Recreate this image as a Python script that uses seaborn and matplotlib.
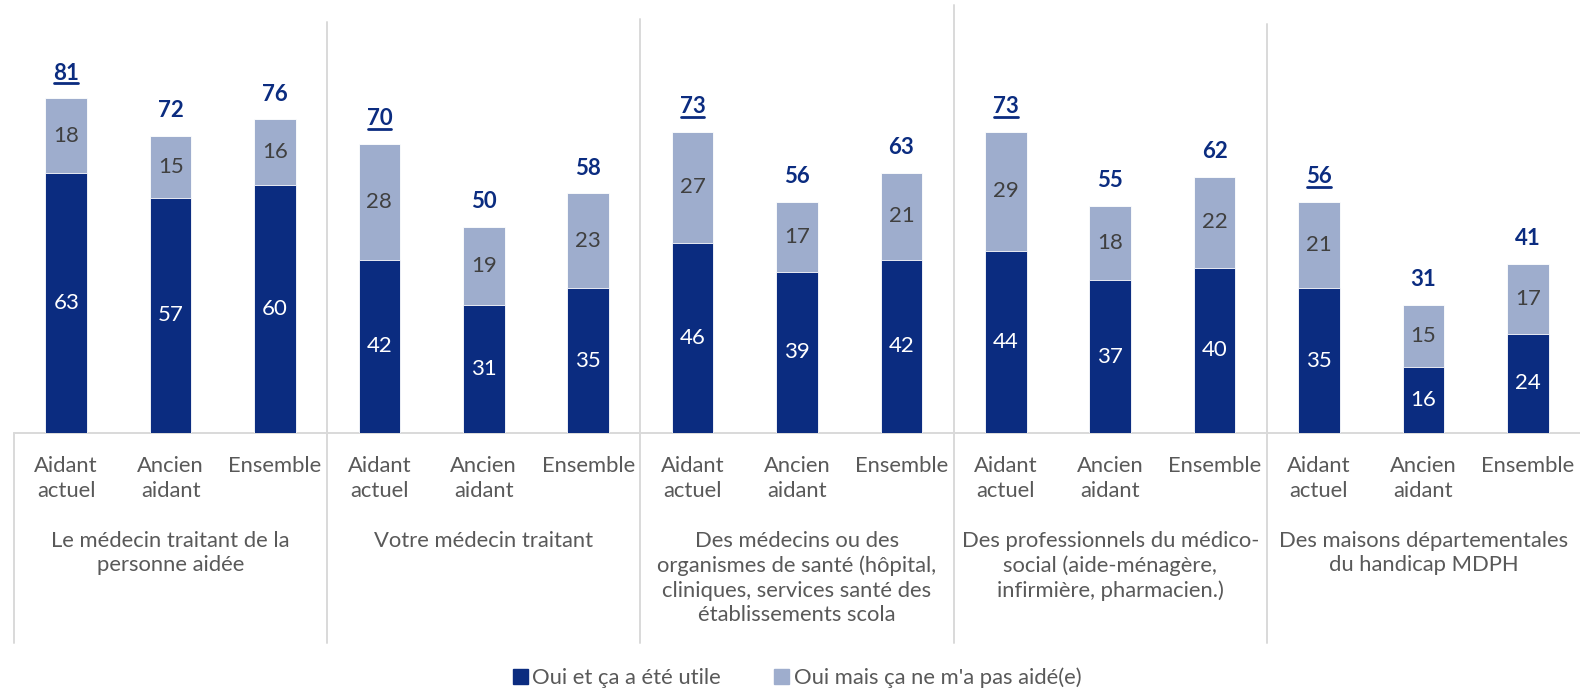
import matplotlib

matplotlib.use("Agg")
import matplotlib.pyplot as plt
import seaborn as sns
from matplotlib.lines import Line2D

# --- data -------------------------------------------------------------
groups = [
    "Le médecin traitant de la\npersonne aidée",
    "Votre médecin traitant",
    "Des médecins ou des\norganismes de santé (hôpital,\ncliniques, services santé des\nétablissements scola",
    "Des professionnels du médico-\nsocial (aide-ménagère,\ninfirmière, pharmacien.)",
    "Des maisons départementales\ndu handicap MDPH",
]
subgroups = ["Aidant\nactuel", "Ancien\naidant", "Ensemble"]
utile = [63, 57, 60, 42, 31, 35, 46, 39, 42, 44, 37, 40, 35, 16, 24]
pas_aide = [18, 15, 16, 28, 19, 23, 27, 17, 21, 29, 18, 22, 21, 15, 17]
totals = [81, 72, 76, 70, 50, 58, 73, 56, 63, 73, 55, 62, 56, 31, 41]
legend_labels = ["Oui et ça a été utile", "Oui mais ça ne m'a pas aidé(e)"]

DARK = "#0b2c80"
LIGHT = "#9eadcd"
GRID = "#d9d9d9"
TXT = "#595959"

sns.set_theme(style="white")
plt.rcParams["font.family"] = ["Lato", "DejaVu Sans"]

W, H = 1580, 691
fig = plt.figure(figsize=(W / 100, H / 100), dpi=100)
base_px = 433
px_per_unit = 4.13
ax = fig.add_axes([14 / W, 1 - base_px / H, 1 - 14 / W, base_px / H])

keys = [f"{g}|{s}" for g in range(len(groups)) for s in range(len(subgroups))]
sns.barplot(x=keys, y=totals, order=keys, color=LIGHT, saturation=1,
            width=0.4, ax=ax, edgecolor="white", linewidth=0.6)
sns.barplot(x=keys, y=utile, order=keys, color=DARK, saturation=1,
            width=0.4, ax=ax, edgecolor="white", linewidth=0.6)

ax.set_xlim(-0.5, len(keys) - 0.5)
ax.set_ylim(0, base_px / px_per_unit)
ax.set_xticks([])
ax.set_yticks([])
ax.set_xlabel("")
ax.set_ylabel("")
for sp in ax.spines.values():
    sp.set_visible(False)


def py(px):
    """pixel row -> data y"""
    return (base_px - px) / px_per_unit


# segment labels
for i, (u, p) in enumerate(zip(utile, pas_aide)):
    ax.text(i, u / 2, str(u), ha="center", va="center", color="white", fontsize=16)
    ax.text(i, u + p / 2, str(p), ha="center", va="center", color="#404040", fontsize=16)

# totals, underlined for "Aidant actuel"
tot_texts = []
for i, t in enumerate(totals):
    txt = ax.annotate(str(t), (i, t), xytext=(0, 25), textcoords="offset pixels",
                      ha="center", va="center", color=DARK, fontsize=16,
                      fontweight="bold")
    tot_texts.append((i, txt))

# category box and separators
sep_tops = [22, 19, 5, 24]
box_bottom = py(643)
line_kw = dict(color=GRID, lw=1.4, clip_on=False, zorder=0)
ax.plot([-0.5, len(keys) - 0.5], [0, 0], **line_kw)
ax.plot([-0.5, -0.5], [0, box_bottom], **line_kw)
for k, top in enumerate(sep_tops):
    xs = 3 * (k + 1) - 0.5
    ax.plot([xs, xs], [py(top), box_bottom], **line_kw)

# sub labels and group labels
for i, key in enumerate(keys):
    s = i % 3
    ax.text(i, py(456), subgroups[s], ha="center", va="top", color=TXT,
            fontsize=15.8, linespacing=1.3, clip_on=False)
for g, name in enumerate(groups):
    ax.text(3 * g + 1, py(531), name, ha="center", va="top", color=TXT,
            fontsize=15.8, linespacing=1.28, clip_on=False)

# legend
handles = [plt.Rectangle((0, 0), 1, 1, color=DARK), plt.Rectangle((0, 0), 1, 1, color=LIGHT)]
fig.legend(handles, legend_labels, loc="center", bbox_to_anchor=(797 / W, 1 - 678 / H),
           ncol=2, frameon=False, fontsize=15.8, handlelength=0.7, handleheight=0.7,
           handletextpad=0.2, columnspacing=2.4, labelcolor=TXT)

# underline the "Aidant actuel" totals
fig.canvas.draw()
r = fig.canvas.get_renderer()
for i, txt in tot_texts:
    if i % 3 != 0:
        continue
    bb = txt.get_window_extent(r)
    yc = (bb.y0 + bb.y1) / 2 - 10
    inv = fig.transFigure.inverted()
    (x0, y0), (x1, _) = inv.transform([(bb.x0 + 1, yc), (bb.x1 - 1, yc)])
    fig.add_artist(Line2D([x0, x1], [y0, y0], color=DARK, lw=2))

fig.savefig("out.png", dpi=100)
